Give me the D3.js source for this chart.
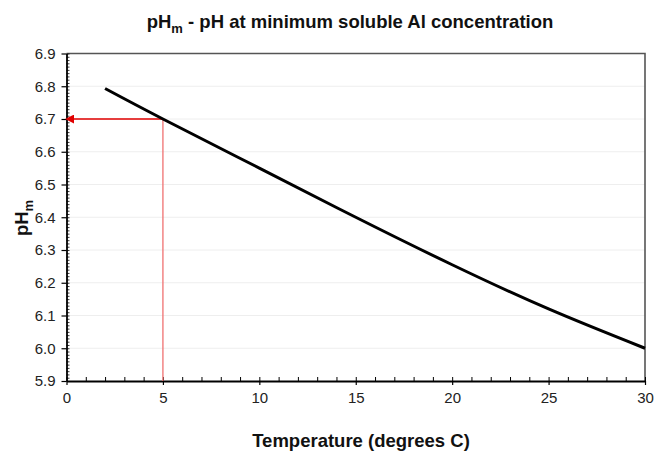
<!DOCTYPE html>
<html>
<head>
<meta charset="utf-8">
<script src="https://cdn.jsdelivr.net/npm/d3@7"></script>
<style>
  body { margin: 0; background: #fff; }
  text { font-family: Arial, "Liberation Sans", sans-serif; }
</style>
</head>
<body>
<svg id="chart" width="655" height="455"></svg>
<script>
// temperature (deg C) and pHm
var temps = [2, 5, 10, 15, 20, 25, 30];
var phm = [6.793, 6.70, 6.55, 6.40, 6.255, 6.12, 6.00];
var xTicks = [0, 5, 10, 15, 20, 25, 30];
var yTicks = [5.9, 6.0, 6.1, 6.2, 6.3, 6.4, 6.5, 6.6, 6.7, 6.8, 6.9];
var markT = 5, markPh = 6.70;

var svg = d3.select("#chart");
var pLeft = 66.5, pRight = 645, pTop = 53.5, pBottom = 381;

var x = d3.scaleLinear().domain([0, 30]).range([pLeft, pRight]);
var y = d3.scaleLinear().domain([5.9, 6.9]).range([pBottom, pTop]);

// faint gridlines
svg.append("g").selectAll("line").data(yTicks.slice(1, -1))
  .enter().append("line")
  .attr("x1", pLeft).attr("x2", pRight)
  .attr("y1", function(d) { return y(d); })
  .attr("y2", function(d) { return y(d); })
  .style("stroke", "#eeeeee").style("stroke-width", 1);

// top + right frame
svg.append("path")
  .attr("d", "M" + pLeft + "," + pTop + "H" + pRight + "V" + pBottom)
  .style("fill", "none").style("stroke", "#555").style("stroke-width", 1.6);

// minor ticks (inside)
var xMinor = d3.range(0, 31);
var yMinor = d3.range(0, 101).map(function(i) { return 5.9 + i / 100; });

svg.append("g").attr("transform", "translate(0," + pBottom + ")")
  .call(d3.axisBottom(x).tickValues(xMinor).tickSize(-4).tickFormat(""))
  .call(function(g) { g.select(".domain").remove(); })
  .selectAll("line").style("stroke", "#000").style("stroke-width", 1);

svg.append("g").attr("transform", "translate(" + pLeft + ",0)")
  .call(d3.axisLeft(y).tickValues(yMinor).tickSize(-3).tickFormat(""))
  .call(function(g) { g.select(".domain").remove(); })
  .selectAll("line").style("stroke", "#000").style("stroke-width", 0.8);

// major axes
var xAxis = svg.append("g").attr("transform", "translate(0," + pBottom + ")")
  .call(d3.axisBottom(x).tickValues(xTicks).tickSize(4).tickSizeOuter(0).tickPadding(7)
    .tickFormat(d3.format("d")));
var yAxis = svg.append("g").attr("transform", "translate(" + pLeft + ",0)")
  .call(d3.axisLeft(y).tickValues(yTicks).tickSize(5).tickSizeOuter(0).tickPadding(6)
    .tickFormat(d3.format(".1f")));

[xAxis, yAxis].forEach(function(g) {
  g.attr("font-size", null).attr("font-family", null);
  g.select(".domain").style("stroke", "#000").style("stroke-width", 1.8);
  g.selectAll(".tick line").style("stroke", "#000").style("stroke-width", 1.2);
  g.selectAll(".tick text").style("font-size", "15px").style("fill", "#222");
});

// red marker lines
svg.append("defs").append("marker")
  .attr("id", "arrow").attr("viewBox", "0 0 10 10")
  .attr("refX", 1).attr("refY", 5)
  .attr("markerWidth", 9).attr("markerHeight", 9)
  .attr("markerUnits", "userSpaceOnUse")
  .attr("orient", "auto-start-reverse")
  .append("path").attr("d", "M0,0L10,5L0,10Z").style("fill", "#e00000");

svg.append("line")
  .attr("x1", x(markT)).attr("x2", x(markT))
  .attr("y1", y(5.9)).attr("y2", y(markPh))
  .style("stroke", "#f07070").style("stroke-width", 1.3);

svg.append("line")
  .attr("x1", x(markT)).attr("x2", x(0.35))
  .attr("y1", y(markPh)).attr("y2", y(markPh))
  .attr("marker-end", "url(#arrow)")
  .style("stroke", "#e00000").style("stroke-width", 1.3);

// curve
var line = d3.line()
  .x(function(d, i) { return x(temps[i]); })
  .y(function(d) { return y(d); })
  .curve(d3.curveNatural);

svg.append("path").datum(phm)
  .attr("d", line)
  .style("fill", "none").style("stroke", "#000").style("stroke-width", 3);

// titles
var title = svg.append("text").attr("x", 350).attr("y", 28)
  .attr("text-anchor", "middle")
  .style("font-size", "18.5px").style("font-weight", "bold").style("fill", "#111");
title.append("tspan").text("pH");
title.append("tspan").attr("dy", 5).style("font-size", "13px").text("m");
title.append("tspan").attr("dy", -5).text(" - pH at minimum soluble Al concentration");

svg.append("text").attr("x", 361).attr("y", 447)
  .attr("text-anchor", "middle")
  .style("font-size", "18.5px").style("font-weight", "bold").style("fill", "#111")
  .text("Temperature (degrees C)");

var ylab = svg.append("text")
  .attr("transform", "translate(28,218) rotate(-90)")
  .attr("text-anchor", "middle")
  .style("font-size", "18.5px").style("font-weight", "bold").style("fill", "#111");
ylab.append("tspan").text("pH");
ylab.append("tspan").attr("dy", 5).style("font-size", "13px").text("m");
</script>
</body>
</html>
